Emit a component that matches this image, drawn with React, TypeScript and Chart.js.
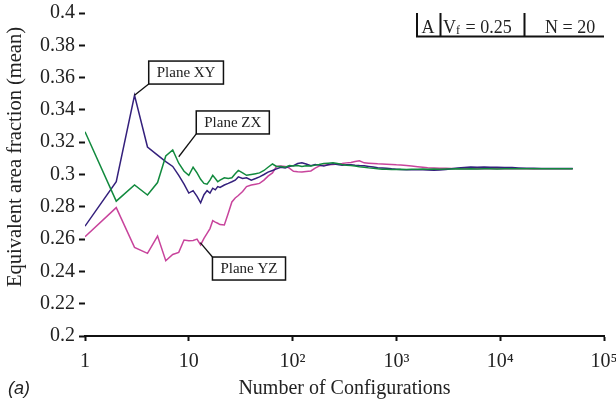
import React, { useEffect, useRef } from 'react';
import { Chart, registerables } from 'chart.js';

Chart.register(...registerables);

// ---- data ----
const configurations = [
  1, 2, 3, 4, 5, 6, 7, 8, 9, 10,
  11, 12, 13, 14, 15, 16, 17, 18, 19, 20,
  22, 24, 26, 28, 30, 33, 36, 40, 44, 48,
  53, 58, 64, 70, 77, 85, 93, 102, 112, 123,
  135, 150, 165, 180, 200, 220, 245, 270, 300, 330,
  365, 400, 440, 490, 540, 600, 660, 730, 800, 900,
  1000, 1100, 1250, 1400, 1600, 1800, 2000, 2300, 2600, 3000,
  3400, 3900, 4500, 5200, 6000, 7000, 8000, 9300, 11000, 13000,
  15000, 18000, 21000, 25000, 30000, 36000, 43000, 50000,
];

const planeXY = [
  0.268, 0.2955, 0.349, 0.317, 0.312, 0.308, 0.305, 0.2995, 0.294, 0.2885,
  0.29, 0.2865, 0.2825, 0.2875, 0.29, 0.2885, 0.2915, 0.2905, 0.2925, 0.292,
  0.2935, 0.2945, 0.2955, 0.2965, 0.2985, 0.2975, 0.298, 0.2965, 0.2975, 0.2985,
  0.3, 0.3015, 0.3025, 0.3035, 0.3045, 0.304, 0.305, 0.3055, 0.3068, 0.3073,
  0.3065, 0.3055, 0.3062, 0.3058, 0.3052, 0.306, 0.3066, 0.3062, 0.3058, 0.3061,
  0.306, 0.3057, 0.3055, 0.3054, 0.305, 0.3046, 0.3042, 0.304, 0.3038, 0.3035,
  0.3033, 0.3031, 0.303, 0.3029, 0.303, 0.3029, 0.3028, 0.3027, 0.3028, 0.3031,
  0.3035, 0.304, 0.3044, 0.3046, 0.3045, 0.3046, 0.3045, 0.3045, 0.3044, 0.3043,
  0.3041, 0.3039, 0.3038, 0.3037, 0.3037, 0.3037, 0.3037, 0.3037,
];

const planeZX = [
  0.3265, 0.2835, 0.2935, 0.2873, 0.295, 0.3115, 0.3152, 0.307, 0.302, 0.2995,
  0.3045, 0.301, 0.297, 0.2945, 0.294, 0.2965, 0.2995, 0.2975, 0.2955, 0.2965,
  0.298, 0.2975, 0.298, 0.3005, 0.3025, 0.301, 0.2995, 0.3, 0.3005, 0.301,
  0.3025, 0.3045, 0.3065, 0.305, 0.305, 0.3045, 0.3055, 0.3052, 0.3056, 0.305,
  0.3054, 0.3052, 0.3058, 0.3062, 0.3068, 0.307, 0.3072, 0.3068, 0.3062, 0.3058,
  0.3055, 0.3052, 0.3048, 0.3045, 0.3041, 0.3038, 0.3035, 0.3033, 0.3032, 0.3031,
  0.3031, 0.3032, 0.3031, 0.3033, 0.3032, 0.3034, 0.3033, 0.3034, 0.3033, 0.3034,
  0.3034, 0.3035, 0.3034, 0.3035, 0.3034, 0.3035, 0.3035, 0.3034, 0.3035, 0.3035,
  0.3035, 0.3035, 0.3035, 0.3035, 0.3035, 0.3035, 0.3035, 0.3035,
];

const planeYZ = [
  0.2615, 0.2795, 0.2549, 0.2512, 0.2619, 0.2466, 0.2505, 0.2518, 0.2594, 0.259,
  0.2592, 0.26, 0.2564, 0.2605, 0.2636, 0.2665, 0.2714, 0.2705, 0.2698, 0.269,
  0.2687, 0.276, 0.283, 0.2855, 0.287, 0.2895, 0.2925, 0.2935, 0.294, 0.2945,
  0.2965, 0.299, 0.301, 0.305, 0.3053, 0.305, 0.304, 0.302, 0.3017, 0.3015,
  0.3018, 0.3022, 0.304, 0.3052, 0.3058, 0.306, 0.3062, 0.3065, 0.3068, 0.3072,
  0.3075, 0.308, 0.3085, 0.3072, 0.307, 0.3068, 0.3066, 0.3065, 0.3064, 0.3062,
  0.306, 0.3059, 0.3055, 0.3052, 0.3048, 0.3045, 0.3042, 0.304, 0.3039, 0.3038,
  0.3037, 0.3036, 0.3036, 0.3035, 0.3036, 0.3035, 0.3035, 0.3036, 0.3035, 0.3035,
  0.3035, 0.3035, 0.3034, 0.3035, 0.3035, 0.3035, 0.3035, 0.3035,
];

const seriesNames = ['Plane XY', 'Plane ZX', 'Plane YZ'];
const seriesColors = ['#34207c', '#128a3e', '#c8449c'];

const xTickValues = [1, 10, 100, 1000, 10000, 100000];
const xTickLabels = ['1', '10', '10\u00B2', '10\u00B3', '10\u2074', '10\u2075'];
const yTickValues = [0.2, 0.22, 0.24, 0.26, 0.28, 0.3, 0.32, 0.34, 0.36, 0.38, 0.4];

const xTitle = 'Number of Configurations';
const yTitle = 'Equivalent area fraction (mean)';
const panelLabel = '(a)';

// label callouts: where the leader touches the curve, and the box corner (data coords)
const calloutAnchors = [
  { x: 3, y: 0.349 },
  { x: 8, y: 0.311 },
  { x: 12.9, y: 0.2578 },
];
const calloutCorners = [
  { x: 4.11, y: 0.356, at: 'bottom' },
  { x: 11.8, y: 0.3251, at: 'bottom' },
  { x: 16.9, y: 0.2489, at: 'top' },
];

const SERIF = '"Liberation Serif", "Times New Roman", Times, serif';

const toPoints = (vals: number[]) => vals.map((v, i) => ({ x: configurations[i], y: v }));

const decorPlugin = {
  id: 'decor',
  afterDatasetsDraw(chart: any) {
    const { ctx, scales } = chart;
    const xs = scales.x;
    const ys = scales.y;
    ctx.save();
    // callouts
    ctx.font = `15px ${SERIF}`;
    seriesNames.forEach((name, i) => {
      const a = calloutAnchors[i];
      const c = calloutCorners[i];
      const ax = xs.getPixelForValue(a.x);
      const ay = ys.getPixelForValue(a.y);
      const bx = xs.getPixelForValue(c.x);
      const by = ys.getPixelForValue(c.y);
      const w = ctx.measureText(name).width + 16;
      const h = 23;
      const top = c.at === 'top' ? by : by - h;
      ctx.strokeStyle = '#111';
      ctx.lineWidth = 1.3;
      ctx.beginPath();
      ctx.moveTo(ax, ay);
      ctx.lineTo(bx, by);
      ctx.stroke();
      ctx.fillStyle = '#fff';
      ctx.fillRect(bx, top, w, h);
      ctx.lineWidth = 1.5;
      ctx.strokeRect(bx, top, w, h);
      ctx.fillStyle = '#222';
      ctx.textAlign = 'center';
      ctx.textBaseline = 'middle';
      ctx.fillText(name, bx + w / 2, top + h / 2 + 1);
    });
    ctx.restore();
  },
  afterDraw(chart: any) {
    const { ctx } = chart;
    ctx.save();
    ctx.fillStyle = '#222';
    // y title
    ctx.font = `20.5px ${SERIF}`;
    ctx.textAlign = 'center';
    ctx.textBaseline = 'middle';
    ctx.translate(16, 157);
    ctx.rotate(-Math.PI / 2);
    ctx.fillText(yTitle, 0, 0);
    ctx.restore();

    ctx.save();
    ctx.fillStyle = '#222';
    // panel label
    ctx.font = `italic 18px "Liberation Sans", Arial, sans-serif`;
    ctx.textAlign = 'left';
    ctx.textBaseline = 'alphabetic';
    ctx.fillText(panelLabel, 8, 394);

    // parameter box top-right
    const base = 33;
    ctx.font = `18px ${SERIF}`;
    ctx.fillText('A', 421.5, base);
    ctx.fillText('V', 443, base);
    const vW = ctx.measureText('V').width;
    ctx.font = `12px ${SERIF}`;
    ctx.fillText('f', 443 + vW, base + 1);
    const fW = ctx.measureText('f').width;
    ctx.font = `18px ${SERIF}`;
    ctx.fillText(' = 0.25', 443 + vW + fW + 1, base);
    ctx.fillText('N = 20', 545, base);
    ctx.strokeStyle = '#111';
    ctx.lineWidth = 2;
    ctx.beginPath();
    [417, 440.5, 524.5].forEach((xx) => {
      ctx.moveTo(xx, 13);
      ctx.lineTo(xx, 37);
    });
    ctx.moveTo(416, 36.5);
    ctx.lineTo(604, 36.5);
    ctx.stroke();
    ctx.restore();
  },
};

export default function App() {
  const ref = useRef<HTMLCanvasElement | null>(null);
  useEffect(() => {
    if (!ref.current) return;
    const chart = new Chart(ref.current, {
      type: 'line',
      data: {
        datasets: [
          { label: seriesNames[1], data: toPoints(planeZX), borderColor: seriesColors[1] },
          { label: seriesNames[0], data: toPoints(planeXY), borderColor: seriesColors[0] },
          { label: seriesNames[2], data: toPoints(planeYZ), borderColor: seriesColors[2] },
        ].map((d) => ({ ...d, borderWidth: 1.5, pointRadius: 0, tension: 0, fill: false })),
      },
      options: {
        animation: false,
        responsive: false,
        devicePixelRatio: 1,
        layout: { padding: { top: 13, right: 12, left: 0, bottom: 0 } },
        plugins: { legend: { display: false }, tooltip: { enabled: false } },
        scales: {
          x: {
            type: 'logarithmic',
            min: 1,
            max: 100000,
            afterBuildTicks: (s: any) => {
              s.ticks = xTickValues.map((v) => ({ value: v }));
            },
            afterFit: (s: any) => {
              s.height = 68;
              s.paddingLeft = 0;
              s.paddingRight = 0;
            },
            ticks: {
              autoSkip: false,
              maxRotation: 0,
              padding: 9,
              color: '#222',
              font: { family: SERIF, size: 20 },
              callback: (v: any) => {
                const i = xTickValues.indexOf(Number(v));
                return i >= 0 ? xTickLabels[i] : '';
              },
            },
            grid: {
              display: true,
              drawOnChartArea: false,
              drawTicks: true,
              tickLength: 5,
              tickWidth: 2,
              tickColor: '#111',
            },
            border: { display: true, color: '#111', width: 2 },
            title: {
              display: true,
              text: xTitle,
              color: '#222',
              font: { family: SERIF, size: 20 },
              padding: { top: 0, bottom: 3 },
            },
          },
          y: {
            type: 'linear',
            min: 0.2,
            max: 0.4,
            afterBuildTicks: (s: any) => {
              s.ticks = yTickValues.map((v) => ({ value: v }));
            },
            afterFit: (s: any) => {
              s.width = 85;
              s.paddingTop = 0;
              s.paddingBottom = 0;
            },
            ticks: {
              autoSkip: false,
              padding: 4,
              color: '#222',
              font: { family: SERIF, size: 20 },
              callback: (v: any) => String(Number(Number(v).toFixed(2))),
            },
            grid: {
              display: true,
              drawOnChartArea: false,
              drawTicks: true,
              tickLength: 6,
              tickWidth: 2,
              tickColor: '#111',
            },
            border: { display: false },
          },
        },
      },
      plugins: [decorPlugin],
    } as any);
    return () => chart.destroy();
  }, []);
  return (
    <div style={{ position: 'fixed', left: 0, top: 0, width: 616, height: 404, background: '#fff' }}>
      <canvas ref={ref} width={616} height={404} style={{ width: 616, height: 404 }} />
    </div>
  );
}
